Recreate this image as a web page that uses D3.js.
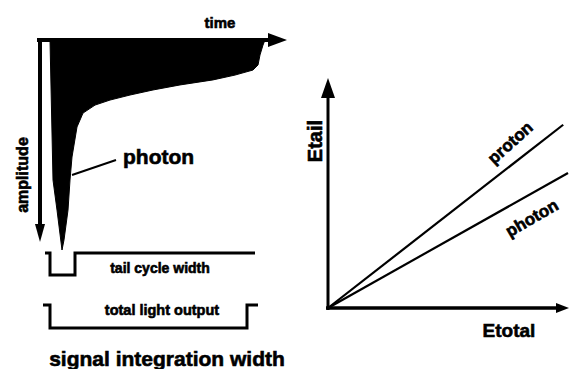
<!DOCTYPE html>
<html>
<head>
<meta charset="utf-8">
<script src="https://cdn.jsdelivr.net/npm/d3@7"></script>
<style>
  html, body { margin: 0; padding: 0; background: #fff; }
  svg { display: block; }
  text { font-family: "Liberation Sans", Arial, sans-serif; font-weight: bold; fill: #000; stroke: #000; stroke-width: 0.6px; }
</style>
</head>
<body>
<svg id="chart" width="571" height="369"></svg>
<script>
// Pulse outline (time in samples, amplitude normalised, negative-going pulse)
const pulseTime = [10, 13, 17, 22, 24, 28, 30, 32, 37, 43, 55, 70, 90, 113, 140, 173, 195, 213, 218, 220, 223, 225];
const pulseAmp  = [0, 0.667, 0.81, 1.0, 0.952, 0.81, 0.667, 0.557, 0.414, 0.348, 0.31, 0.286, 0.262, 0.238, 0.214, 0.19, 0.167, 0.143, 0.119, 0.071, 0.024, 0];

// Integration gates (time samples): line start, gate open, gate close, line end
const gateNames = ["tail cycle width", "total light output"];
const gateStart = [5, 3];
const gateOpen  = [10, 10];
const gateClose = [35, 207];
const gateEnd   = [215, 218];

// Discrimination plot: E_tail vs E_total for each particle band
const bandNames  = ["proton", "photon"];
const bandSlopes = [0.813, 0.587];
const bandEnds   = [0.98, 1.0];

const svg = d3.select("#chart");

// ---------- left panel: pulse ----------
const tScale = d3.scaleLinear().domain([0, 230]).range([40, 270]);
const aScale = d3.scaleLinear().domain([0, 1]).range([40, 250]);

const pulsePts = pulseTime.map((t, i) => [tScale(t), aScale(pulseAmp[i])]);
svg.append("path")
  .attr("d", d3.line()(pulsePts) + "Z")
  .attr("fill", "#000").attr("stroke", "#000").attr("stroke-width", 1);

// time axis (top) with arrow
svg.append("line").attr("x1", 37).attr("y1", 40).attr("x2", 274).attr("y2", 40)
  .attr("stroke", "#000").attr("stroke-width", 4);
svg.append("path").attr("d", "M268,33 L287,40 L268,47 Z").attr("fill", "#000");
svg.append("text").attr("x", 220).attr("y", 28).attr("text-anchor", "middle")
  .attr("font-size", 15).text("time");

// amplitude axis (down) with arrow
svg.append("line").attr("x1", 40).attr("y1", 38).attr("x2", 40).attr("y2", 228)
  .attr("stroke", "#000").attr("stroke-width", 4);
svg.append("path").attr("d", "M35,224 L40,242 L45,224 Z").attr("fill", "#000");
svg.append("text").attr("transform", "translate(28,175) rotate(-90)")
  .attr("text-anchor", "middle").attr("font-size", 16).text("amplitude");

// leader + label
svg.append("line").attr("x1", 72).attr("y1", 175).attr("x2", 116).attr("y2", 160)
  .attr("stroke", "#000").attr("stroke-width", 2);
svg.append("text").attr("x", 123).attr("y", 164).attr("font-size", 21).text("photon");

// gates
const gateHigh = [253, 305];
const gateLow  = [275, 328];
const gateLabelX = [160, 162];
const gateLabelY = [273, 315];
const gateFont = [14, 14.5];
gateNames.forEach((name, i) => {
  const p = d3.path();
  p.moveTo(tScale(gateStart[i]), gateHigh[i]);
  p.lineTo(tScale(gateOpen[i]), gateHigh[i]);
  p.lineTo(tScale(gateOpen[i]), gateLow[i]);
  p.lineTo(tScale(gateClose[i]), gateLow[i]);
  p.lineTo(tScale(gateClose[i]), gateHigh[i]);
  p.lineTo(tScale(gateEnd[i]), gateHigh[i]);
  svg.append("path").attr("d", p.toString()).attr("fill", "none")
    .attr("stroke", "#000").attr("stroke-width", 3);
  svg.append("text").attr("x", gateLabelX[i]).attr("y", gateLabelY[i])
    .attr("text-anchor", "middle").attr("font-size", gateFont[i]).text(name);
});

svg.append("text").attr("x", 167).attr("y", 366).attr("text-anchor", "middle")
  .attr("font-size", 21).text("signal integration width");

// ---------- right panel: E_tail vs E_total ----------
const ex = d3.scaleLinear().domain([0, 1]).range([328, 568]);
const ey = d3.scaleLinear().domain([0, 1]).range([308, 78]);

// axes
svg.append("line").attr("x1", ex(0)).attr("y1", ey(0) + 2).attr("x2", ex(0)).attr("y2", 94)
  .attr("stroke", "#000").attr("stroke-width", 3);
svg.append("path").attr("d", `M${ex(0) - 7},98 L${ex(0)},78 L${ex(0) + 7},98 Z`).attr("fill", "#000");
svg.append("line").attr("x1", ex(0) - 2).attr("y1", ey(0)).attr("x2", 560).attr("y2", ey(0))
  .attr("stroke", "#000").attr("stroke-width", 3.5);
svg.append("path").attr("d", `M556,${ey(0) - 5} L569,${ey(0)} L556,${ey(0) + 5} Z`).attr("fill", "#000");

svg.append("text").attr("transform", "translate(322,141) rotate(-90)")
  .attr("text-anchor", "middle").attr("font-size", 20).text("Etail");
svg.append("text").attr("x", 509).attr("y", 337).attr("text-anchor", "middle")
  .attr("font-size", 19).text("Etotal");

// particle bands
bandNames.forEach((name, i) => {
  svg.append("line")
    .attr("x1", ex(0)).attr("y1", ey(0))
    .attr("x2", ex(bandEnds[i])).attr("y2", ey(bandSlopes[i] * bandEnds[i]))
    .attr("stroke", "#000").attr("stroke-width", 2.2);
});

const bandLabelAt = [0.76, 0.85];
const bandLabelOff = [-23, 25];
const bandLabelRot = [-42, -30];
bandNames.forEach((name, i) => {
  const x = ex(bandLabelAt[i]);
  const y = ey(bandSlopes[i] * bandLabelAt[i]) + bandLabelOff[i];
  svg.append("text")
    .attr("transform", `translate(${x},${y}) rotate(${bandLabelRot[i]})`)
    .attr("text-anchor", "middle").attr("dominant-baseline", "central")
    .attr("font-size", 17).text(name);
});
</script>
</body>
</html>
